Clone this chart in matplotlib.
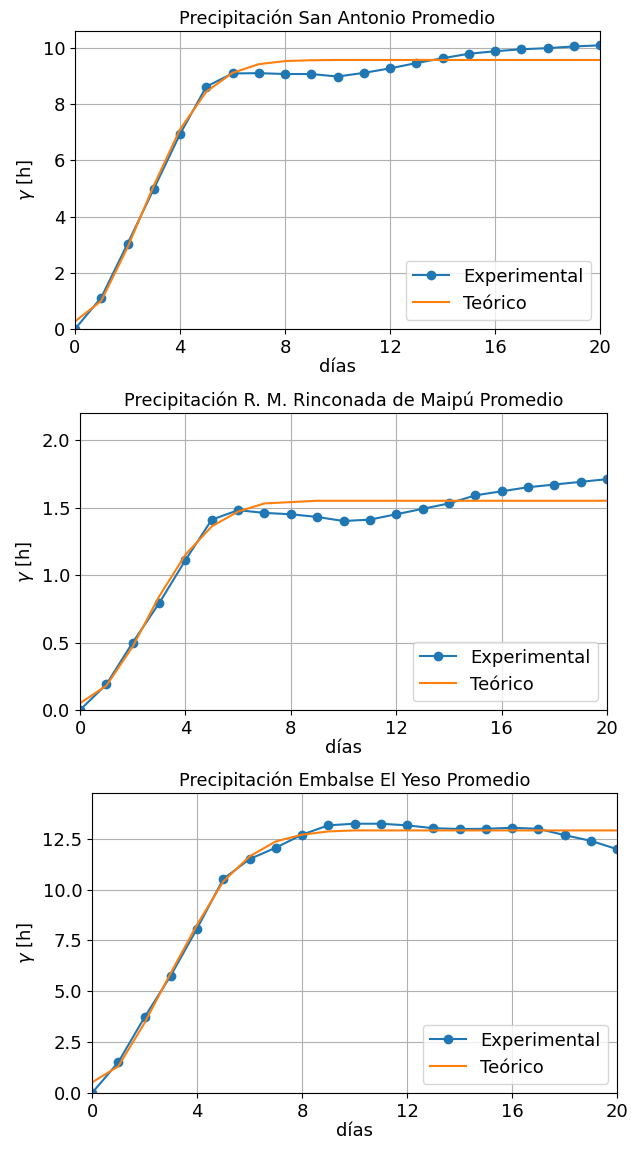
import numpy as np
import matplotlib
matplotlib.use("Agg")
import matplotlib.pyplot as plt

dias = np.arange(0, 21)

# San Antonio
exp_sa = [0.0, 1.12, 3.03, 4.98, 6.93, 8.62, 9.09, 9.10, 9.07, 9.07, 8.98,
          9.11, 9.27, 9.46, 9.63, 9.79, 9.88, 9.95, 9.99, 10.05, 10.09]
teo_sa = [0.27, 1.0, 2.9, 5.1, 7.1, 8.44, 9.11, 9.42, 9.53, 9.56, 9.57,
          9.57, 9.57, 9.57, 9.57, 9.57, 9.57, 9.57, 9.57, 9.57, 9.57]

# R. M. Rinconada de Maipu
exp_rm = [0.0, 0.19, 0.50, 0.79, 1.11, 1.41, 1.48, 1.46, 1.45, 1.43, 1.40,
          1.41, 1.45, 1.49, 1.53, 1.59, 1.62, 1.65, 1.67, 1.69, 1.71]
teo_rm = [0.05, 0.18, 0.47, 0.84, 1.15, 1.36, 1.47, 1.53, 1.54, 1.55, 1.55,
          1.55, 1.55, 1.55, 1.55, 1.55, 1.55, 1.55, 1.55, 1.55, 1.55]

# Embalse El Yeso
exp_ey = [0.0, 1.51, 3.72, 5.77, 8.08, 10.52, 11.50, 12.06, 12.70, 13.16, 13.24,
          13.24, 13.16, 13.02, 12.98, 12.99, 13.04, 12.99, 12.68, 12.40, 11.99]
teo_ey = [0.52, 1.31, 3.44, 5.90, 8.27, 10.40, 11.63, 12.37, 12.70, 12.86, 12.91,
          12.91, 12.91, 12.91, 12.91, 12.91, 12.91, 12.91, 12.91, 12.91, 12.91]

titulos = ["Precipitación San Antonio Promedio",
           "Precipitación R. M. Rinconada de Maipú Promedio",
           "Precipitación Embalse El Yeso Promedio"]
ymax = [10.6, 2.2, 14.75]
yticks = [[0, 2, 4, 6, 8, 10], [0.0, 0.5, 1.0, 1.5, 2.0],
          [0.0, 2.5, 5.0, 7.5, 10.0, 12.5]]
# posiciones de cada panel en pixeles (izq, abajo, ancho, alto)
cajas = [(75, 329, 525, 298), (80, 710, 527, 297), (92, 1093, 525, 300)]

W, H = 631, 1150
fig = plt.figure(figsize=(W / 100, H / 100), dpi=100)

datos = [(exp_sa, teo_sa), (exp_rm, teo_rm), (exp_ey, teo_ey)]
for i, (exp, teo) in enumerate(datos):
    l, b, w, h = cajas[i]
    ax = fig.add_axes([l / W, 1 - b / H, w / W, h / H])
    ax.plot(dias, exp, marker="o", markersize=6, label="Experimental")
    ax.plot(dias, teo, label="Teórico")
    ax.set_xlim(0, 20)
    ax.set_ylim(0, ymax[i])
    ax.set_xticks([0, 4, 8, 12, 16, 20])
    ax.set_yticks(yticks[i])
    ax.tick_params(labelsize=13)
    ax.set_xlabel("días", fontsize=13, labelpad=1)
    ax.set_ylabel(r"$\gamma$ [h]", fontsize=13)
    ax.set_title(titulos[i], fontsize=12.8, pad=5)
    ax.grid(True)
    ax.legend(loc="lower right", fontsize=13)

fig.savefig("out.png", dpi=100)
